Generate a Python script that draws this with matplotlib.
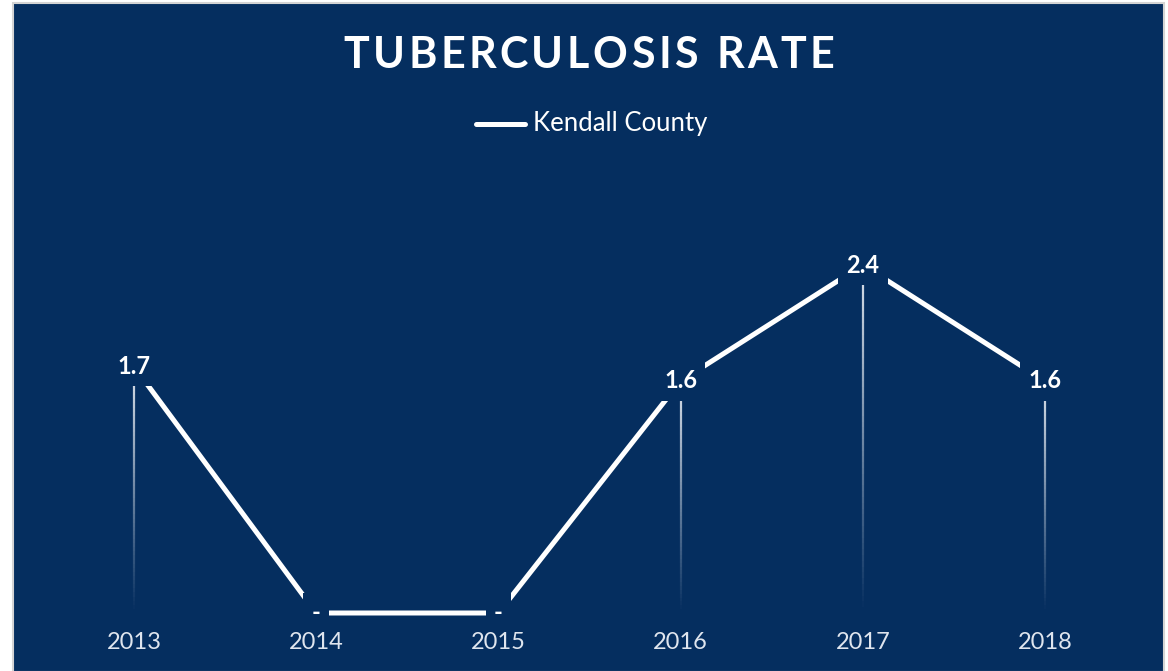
import numpy as np
from matplotlib import pyplot as plt
from matplotlib.collections import LineCollection
from matplotlib.patches import Rectangle

NAVY = '#052e5f'
LIGHT = '#dfe5ee'
FONT = 'Lato'

years = ['2013', '2014', '2015', '2016', '2017', '2018']
rates = [1.7, 0.0, 0.0, 1.6, 2.4, 1.6]
rate_labels = ['1.7', '-', '-', '1.6', '2.4', '1.6']
series_name = 'Kendall County'
title = 'TUBERCULOSIS RATE'

W, H = 1168, 671


def fx(px):
    return px / W


def fy(py):
    return 1 - py / H


def spaced_title(fig, text, cx, cy, track, **kw):
    """Draw text letter by letter with extra tracking (px), centred at cx"""
    r = fig.canvas.get_renderer()
    widths = []
    for ch in text:
        t = fig.text(0, 0, ch if ch != ' ' else 'i', **kw)
        widths.append(t.get_window_extent(r).width)
        t.remove()
    total = sum(widths) + track * (len(text) - 1)
    x = cx - total / 2
    for ch, w in zip(text, widths):
        if ch != ' ':
            fig.text(fx(x), fy(cy), ch, ha='left', va='center', **kw)
        x += w + track


def main():
    fig = plt.figure(figsize=(W / 100, H / 100), dpi=100, facecolor='white')

    # navy panel with thin grey frame
    fig.add_artist(Rectangle((fx(13), fy(672)), fx(1164) - fx(13), fy(3) - fy(672),
                             transform=fig.transFigure, facecolor=NAVY,
                             edgecolor='#d4d4d4', linewidth=1.5, zorder=-5))

    spaced_title(fig, title, 589, 55, 3.5, color='white', fontsize=31,
                 fontweight='bold', family=FONT)

    # legend
    fig.add_artist(plt.Line2D([fx(476), fx(525)], [fy(124), fy(124)], color='white',
                              lw=3.6, solid_capstyle='round', transform=fig.transFigure))
    fig.text(fx(533), fy(124), series_name, ha='left', va='center', color='white',
             fontsize=18.5, family=FONT)

    # axes: x=0 -> 134px, x=5 -> 1045px ; y=0 -> 613px, y=2.4 -> 265px
    ax = fig.add_axes([fx(134), fy(613), fx(1045) - fx(134), fy(265) - fy(613)])
    ax.set_xlim(0, len(years) - 1)
    ax.set_ylim(0, 2.4)
    ax.axis('off')

    x = np.arange(len(years))

    # fading drop lines
    n = 60
    for xi, yi in zip(x, rates):
        if yi <= 0:
            continue
        ys = np.linspace(yi, 0, n + 1)
        segs = [[(xi, ys[k]), (xi, ys[k + 1])] for k in range(n)]
        alphas = np.linspace(0.95, 0.0, n)
        cols = [(0.9, 0.92, 0.95, a) for a in alphas]
        ax.add_collection(LineCollection(segs, colors=cols, linewidths=1.6, zorder=1,
                                         clip_on=False))

    ax.plot(x, rates, color='white', lw=3.6, zorder=2, clip_on=False,
            solid_capstyle='butt')

    for xi, yi, lab in zip(x, rates, rate_labels):
        ax.annotate(lab, (xi, yi), xytext=(0, 0), textcoords='offset points',
                    ha='center', va='center', color='white', fontsize=17,
                    fontweight='bold', family=FONT, zorder=3,
                    bbox=dict(boxstyle='square,pad=0.35', fc=NAVY, ec='none'))

    for xi, yr in zip(x, years):
        ax.annotate(yr, (xi, 0), xytext=(0, -21.5), textcoords='offset points',
                    ha='center', va='center', color=LIGHT, fontsize=17, family=FONT)

    plt.savefig('out.png', dpi=100, facecolor='white')


if __name__ == '__main__':
    main()
